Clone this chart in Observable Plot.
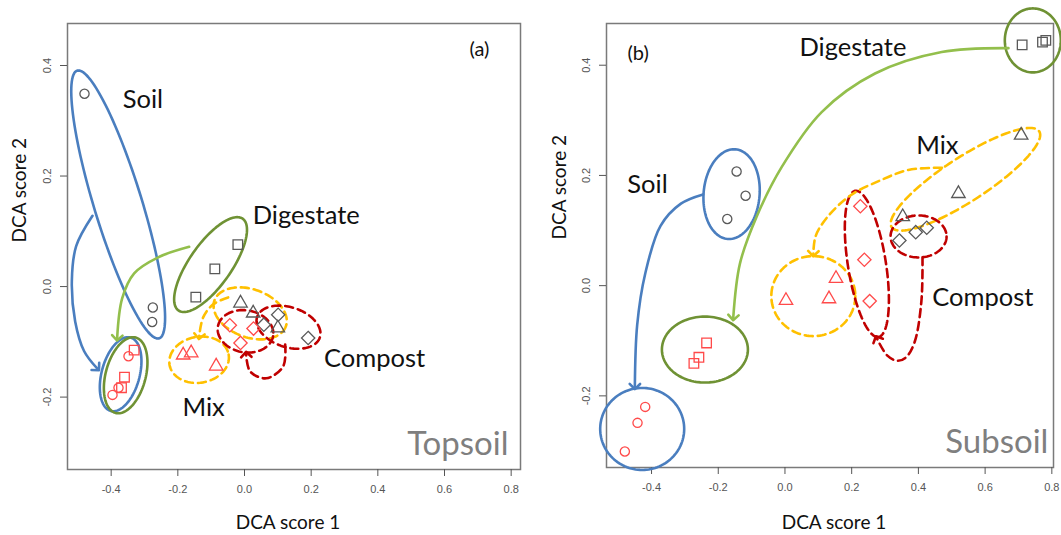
<!DOCTYPE html>
<html><head><meta charset="utf-8">
<script src="https://cdn.jsdelivr.net/npm/d3@7"></script>
<script src="https://cdn.jsdelivr.net/npm/@observablehq/plot@0.6"></script>
<style>
body{margin:0;background:#fff;}
#wrap{position:relative;width:1061px;height:535px;overflow:hidden;background:#fff;}
#pa{position:absolute;left:0;top:0;width:530px;height:535px;}
#pb{position:absolute;left:530px;top:0;width:531px;height:535px;}
</style></head>
<body><div id="wrap"><div id="pa"></div><div id="pb"></div></div>
<script>
// ---- axis ticks ----
const xTicks = [-0.4, -0.2, 0.0, 0.2, 0.4, 0.6, 0.8];
const yTicks = [-0.2, 0.0, 0.2, 0.4];

// ---- group names / symbols ----
const groups = ["Soil", "Digestate", "Mix", "Compost"];
const groupSymbols = ["circle", "square", "triangle", "diamond2"];

// ---- Topsoil (a): DCA scores [score1, score2] ----
const topSoilGray = [[-0.480, 0.349], [-0.275, -0.038], [-0.277, -0.064]];
const topSoilRed  = [[-0.348, -0.126], [-0.378, -0.183], [-0.396, -0.196]];
const topDigGray  = [[-0.020, 0.076], [-0.089, 0.032], [-0.146, -0.019]];
const topDigRed   = [[-0.331, -0.115], [-0.360, -0.164], [-0.369, -0.183]];
const topMixGray  = [[-0.012, -0.030], [0.026, -0.048], [0.100, -0.075]];
const topMixRed   = [[-0.184, -0.124], [-0.160, -0.120], [-0.085, -0.144]];
const topCompGray = [[0.101, -0.051], [0.058, -0.069], [0.191, -0.093]];
const topCompRed  = [[-0.044, -0.070], [0.027, -0.076], [-0.012, -0.102]];

// ---- Subsoil (b) ----
const subSoilGray = [[-0.145, 0.207], [-0.118, 0.163], [-0.173, 0.121]];
const subSoilRed  = [[-0.419, -0.220], [-0.442, -0.249], [-0.480, -0.301]];
const subDigGray  = [[0.711, 0.437], [0.772, 0.442], [0.782, 0.445]];
const subDigRed   = [[-0.235, -0.104], [-0.258, -0.130], [-0.273, -0.141]];
const subMixGray  = [[0.708, 0.273], [0.520, 0.167], [0.353, 0.125]];
const subMixRed   = [[0.003, -0.027], [0.132, -0.024], [0.153, 0.013]];
const subCompGray = [[0.343, 0.082], [0.392, 0.097], [0.425, 0.105]];
const subCompRed  = [[0.226, 0.144], [0.238, 0.047], [0.254, -0.028]];

// ---- text labels ----
const topLabels = ["Soil", "Digestate", "Compost", "Mix"];
const topLabelX = [-0.305, 0.185, 0.390, -0.1225];
const topLabelY = [0.338, 0.128, -0.131, -0.220];
const subLabels = ["Soil", "Digestate", "Compost", "Mix"];
const subLabelX = [-0.412, 0.2036, 0.593, 0.457];
const subLabelY = [0.183, 0.431, -0.0217, 0.254];

// ---- annotation ellipses: centre (data), semi-axes (px), rotation (deg) ----
const topEllipses = [
  {kind: "blue",   cx: -0.379,  cy: 0.1485,  a: 140, b: 24, angle: 73},
  {kind: "blue",   cx: -0.3716, cy: -0.1586, a: 38,  b: 19, angle: -75},
  {kind: "green",  cx: -0.3565, cy: -0.1605, a: 39,  b: 20, angle: -75},
  {kind: "green",  cx: -0.1018, cy: 0.0398,  a: 56,  b: 21, angle: -55},
  {kind: "yellow", cx: -0.1362, cy: -0.1324, a: 30,  b: 23, angle: -10},
  {kind: "yellow", cx: 0.017,   cy: -0.0485, a: 38,  b: 24, angle: 20},
  {kind: "red",    cx: 0.003,   cy: -0.081,  a: 28,  b: 21, angle: 10},
  {kind: "red",    cx: 0.132,   cy: -0.0735, a: 33,  b: 20, angle: 18}
];
const subEllipses = [
  {kind: "blue",   cx: -0.160,  cy: 0.166,   a: 45, b: 28, angle: -85},
  {kind: "blue",   cx: -0.428,  cy: -0.260,  a: 42, b: 41, angle: 0},
  {kind: "green",  cx: 0.743,   cy: 0.445,   a: 28, b: 32, angle: 0},
  {kind: "green",  cx: -0.240,  cy: -0.116,  a: 43, b: 33, angle: 0},
  {kind: "yellow", cx: 0.085,   cy: -0.019,  a: 42, b: 40, angle: 0},
  {kind: "yellow", cx: 0.541,   cy: 0.193,   a: 88, b: 22, angle: -33},
  {kind: "red",    cx: 0.2455,  cy: 0.0394,  a: 74, b: 19, angle: 81},
  {kind: "red",    cx: 0.4005,  cy: 0.0893,  a: 28, b: 21, angle: 0}
];

// ---- annotation arrows: waypoints in data units ----
const topArrows = [
  {kind: "blue",   pts: [[-0.456,0.128],[-0.505,0.073],[-0.518,0.0094],[-0.508,-0.063],[-0.481,-0.117],[-0.442,-0.148]]},
  {kind: "lime",   pts: [[-0.166,0.0719],[-0.259,0.0529],[-0.331,0.0239],[-0.367,-0.0214],[-0.382,-0.0929]]},
  {kind: "yellow", pts: [[-0.049,-0.0196],[-0.094,-0.0322],[-0.124,-0.0558],[-0.136,-0.0902]]},
  {kind: "red",    pts: [[0.122,-0.1047],[0.116,-0.1445],[0.065,-0.166],[0.017,-0.1535],[0.005,-0.1228]]}
];
const subArrows = [
  {kind: "blue",   pts: [[-0.2455,0.1656],[-0.312,0.1488],[-0.373,0.1085],[-0.419,0.0217],[-0.443,-0.0713],[-0.450,-0.183]]},
  {kind: "lime",   pts: [[0.670,0.431],[0.47,0.424],[0.27,0.385],[0.11,0.315],[-0.01,0.215],[-0.085,0.125],[-0.135,0.04],[-0.155,-0.058]]},
  {kind: "yellow", pts: [[0.4706,0.214],[0.37,0.21],[0.286,0.191],[0.196,0.1636],[0.1265,0.124],[0.092,0.09],[0.085,0.058]]},
  {kind: "red",    pts: [[0.4123,0.0515],[0.409,-0.0279],[0.3887,-0.1023],[0.363,-0.130],[0.3376,-0.1364],[0.307,-0.127],[0.276,-0.0961]]}
];

// ---- styles ----
const lineStyle = {
  blue:   {stroke: "#4a7ebf", dash: null},
  green:  {stroke: "#6f9234", dash: null},
  lime:   {stroke: "#93bf4c", dash: null},
  yellow: {stroke: "#ffc000", dash: "8,5"},
  red:    {stroke: "#c00000", dash: "8,5"}
};
const stateColor = {gray: "#595959", red: "#ff4a4a"};
const symbolR = {circle: 4.6, square: 5.4, triangle: 5.0, diamond2: 6.0};
const fmt = d => d.toFixed(1);

function rows(arr, state) { return arr.map(([x, y]) => ({x, y, state})); }

function ellipsePoints(e, sx, sy) {
  const th = e.angle * Math.PI / 180, out = [];
  for (let i = 0; i <= 120; i++) {
    const t = i / 120 * 2 * Math.PI;
    const dx = e.a * Math.cos(t) * Math.cos(th) - e.b * Math.sin(t) * Math.sin(th);
    const dy = e.a * Math.cos(t) * Math.sin(th) + e.b * Math.sin(t) * Math.cos(th);
    out.push({x: e.cx + dx / sx, y: e.cy - dy / sy});
  }
  return out;
}

function makePanel(cfg) {
  const {width, height, ml, mr, mt, mb, xDom, yDom} = cfg;
  const sx = (width - ml - mr) / (xDom[1] - xDom[0]);
  const sy = (height - mt - mb) / (yDom[1] - yDom[0]);
  const marks = [];
  marks.push(Plot.frame({stroke: "#7a7a7a", strokeWidth: 1.5}));
  marks.push(Plot.axisX({ticks: xTicks, tickSize: 7, tickPadding: 9, tickFormat: fmt,
    fontSize: 11, color: "#555", label: null}));
  marks.push(Plot.axisY({ticks: yTicks, tickSize: 7, tickPadding: 10, tickFormat: fmt,
    tickRotate: -90, fontSize: 11, color: "#555", label: null}));
  for (const e of cfg.ellipses) {
    const st = lineStyle[e.kind];
    marks.push(Plot.line(ellipsePoints(e, sx, sy), {x: "x", y: "y", stroke: st.stroke,
      strokeWidth: 2.6, strokeDasharray: st.dash, curve: "linear"}));
  }
  for (const a of cfg.arrows) {
    const st = lineStyle[a.kind];
    marks.push(Plot.line(a.pts, {x: d => d[0], y: d => d[1], stroke: st.stroke,
      strokeWidth: 2.6, strokeDasharray: st.dash, curve: "catmull-rom", markerEnd: "arrow"}));
  }
  cfg.points.forEach((pair, gi) => {
    const sym = groupSymbols[gi];
    for (const [arr, state] of [[pair[0], "gray"], [pair[1], "red"]]) {
      marks.push(Plot.dot(rows(arr, state), {x: "x", y: "y", symbol: () => sym, r: symbolR[sym],
        stroke: stateColor[state], strokeWidth: 1.3, fill: "none"}));
    }
  });
  marks.push(Plot.text(cfg.labels, {x: (d, i) => cfg.labelX[i], y: (d, i) => cfg.labelY[i],
    text: d => d, fontSize: 25.5, fontFamily: "Lato", fill: "#111"}));
  marks.push(Plot.text([cfg.tag], {x: cfg.tagX, y: cfg.tagY, text: d => d, fontSize: 20,
    fontFamily: "Lato", fill: "#111"}));
  marks.push(Plot.text([cfg.horizon], {x: cfg.horX, y: cfg.horY, text: d => d, fontSize: 33,
    fontFamily: "Lato", fill: "#7f7f7f"}));
  marks.push(Plot.text(["DCA score 1"], {frameAnchor: "bottom", dx: cfg.xtDx, dy: cfg.xtDy,
    text: d => d, fontSize: 19, fontFamily: "Lato", fill: "#111", lineAnchor: "middle"}));
  marks.push(Plot.text(["DCA score 2"], {frameAnchor: "left", dx: cfg.ytDx, dy: cfg.ytDy, rotate: -90,
    text: d => d, fontSize: 19, fontFamily: "Lato", fill: "#111", lineAnchor: "middle"}));

  const svg = Plot.plot({
    width, height, marginLeft: ml, marginRight: mr, marginTop: mt, marginBottom: mb,
    x: {domain: xDom}, y: {domain: yDom},
    symbol: {type: "identity"},
    style: {background: "transparent", overflow: "visible",
      fontFamily: "'Liberation Sans', Arial, sans-serif"},
    marks
  });
  svg.querySelectorAll("marker").forEach(m => m.setAttribute("stroke-dasharray", "none"));
  return svg;
}

document.getElementById("pa").append(makePanel({
  width: 530, height: 535, ml: 67, mr: 10, mt: 23, mb: 66,
  xDom: [-0.531, 0.828], yDom: [-0.331, 0.476],
  ellipses: topEllipses, arrows: topArrows,
  points: [[topSoilGray, topSoilRed], [topDigGray, topDigRed], [topMixGray, topMixRed], [topCompGray, topCompRed]],
  labels: topLabels, labelX: topLabelX, labelY: topLabelY,
  tag: "(a)", tagX: 0.705, tagY: 0.428,
  horizon: "Topsoil", horX: 0.640, horY: -0.285,
  xtDx: -6, xtDy: 53, ytDx: -48, ytDy: -4
}));
document.getElementById("pb").append(makePanel({
  width: 531, height: 535, ml: 76, mr: 8, mt: 23, mb: 68,
  xDom: [-0.535, 0.805], yDom: [-0.330, 0.4757],
  ellipses: subEllipses, arrows: subArrows,
  points: [[subSoilGray, subSoilRed], [subDigGray, subDigRed], [subMixGray, subMixRed], [subCompGray, subCompRed]],
  labels: subLabels, labelX: subLabelX, labelY: subLabelY,
  tag: "(b)", tagX: -0.440, tagY: 0.4217,
  horizon: "Subsoil", horX: 0.635, horY: -0.285,
  xtDx: 4, xtDy: 55, ytDx: -47, ytDy: -6
}));
</script>
</body></html>
